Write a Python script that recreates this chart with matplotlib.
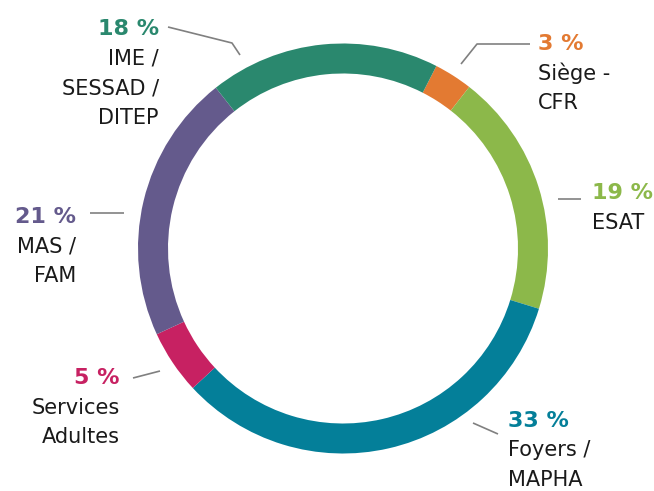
import matplotlib
matplotlib.use("Agg")
import matplotlib.pyplot as plt

# Data (clockwise order starting from the top-right)
categories = ["Siège -\nCFR", "ESAT", "Foyers /\nMAPHA", "Services\nAdultes",
              "MAS /\nFAM", "IME /\nSESSAD /\nDITEP"]
values = [3, 19, 33, 5, 21, 18]
pct_labels = ["3 %", "19 %", "33 %", "5 %", "21 %", "18 %"]
colors = ["#E37A32", "#8CB84A", "#047F99", "#C72162", "#645A8C", "#2A886E"]

W, H = 654, 491
fig = plt.figure(figsize=(W / 100, H / 100), dpi=100)
ax = fig.add_axes([0, 0, 1, 1])

def Y(y):
    return H - y

cx, cy, R = 343, 248.5, 205
ax.pie(values, colors=colors, startangle=62.9, counterclock=False,
       center=(cx, Y(cy)), radius=R,
       wedgeprops=dict(width=30, edgecolor="none", linewidth=0))
ax.set_xlim(0, W)
ax.set_ylim(0, H)
ax.set_aspect("equal")
ax.axis("off")

# label layout: (x, pct baseline y, alignment, leader polyline)
layout = [
    (538, 50, "left", [(530, 44), (477, 44), (461, 64)]),
    (592, 199, "left", [(558, 199), (581, 199)]),
    (508, 427, "left", [(473, 423), (498, 434)]),
    (120, 384, "right", [(133, 378), (160, 371)]),
    (76, 223, "right", [(90, 213), (124, 213)]),
    (159, 35, "right", [(168, 27), (232, 43), (240, 55)]),
]

pct_font = dict(family="DejaVu Sans", weight="bold", size=16)
name_font = dict(family="DejaVu Sans", weight="normal", size=15)
line_gap = 29.5

for cat, pct, col, (x, yb, ha, pts) in zip(categories, pct_labels, colors, layout):
    ax.text(x, Y(yb), pct, color=col, ha=ha, va="baseline", **pct_font)
    for i, line in enumerate(cat.split("\n")):
        ax.text(x, Y(yb + line_gap * (i + 1)), line, color="#1a1a1a", ha=ha,
                va="baseline", **name_font)
    xs = [p[0] for p in pts]
    ys = [Y(p[1]) for p in pts]
    ax.plot(xs, ys, color="#808080", lw=1.2, solid_capstyle="butt")

fig.savefig("out.png", dpi=100)
